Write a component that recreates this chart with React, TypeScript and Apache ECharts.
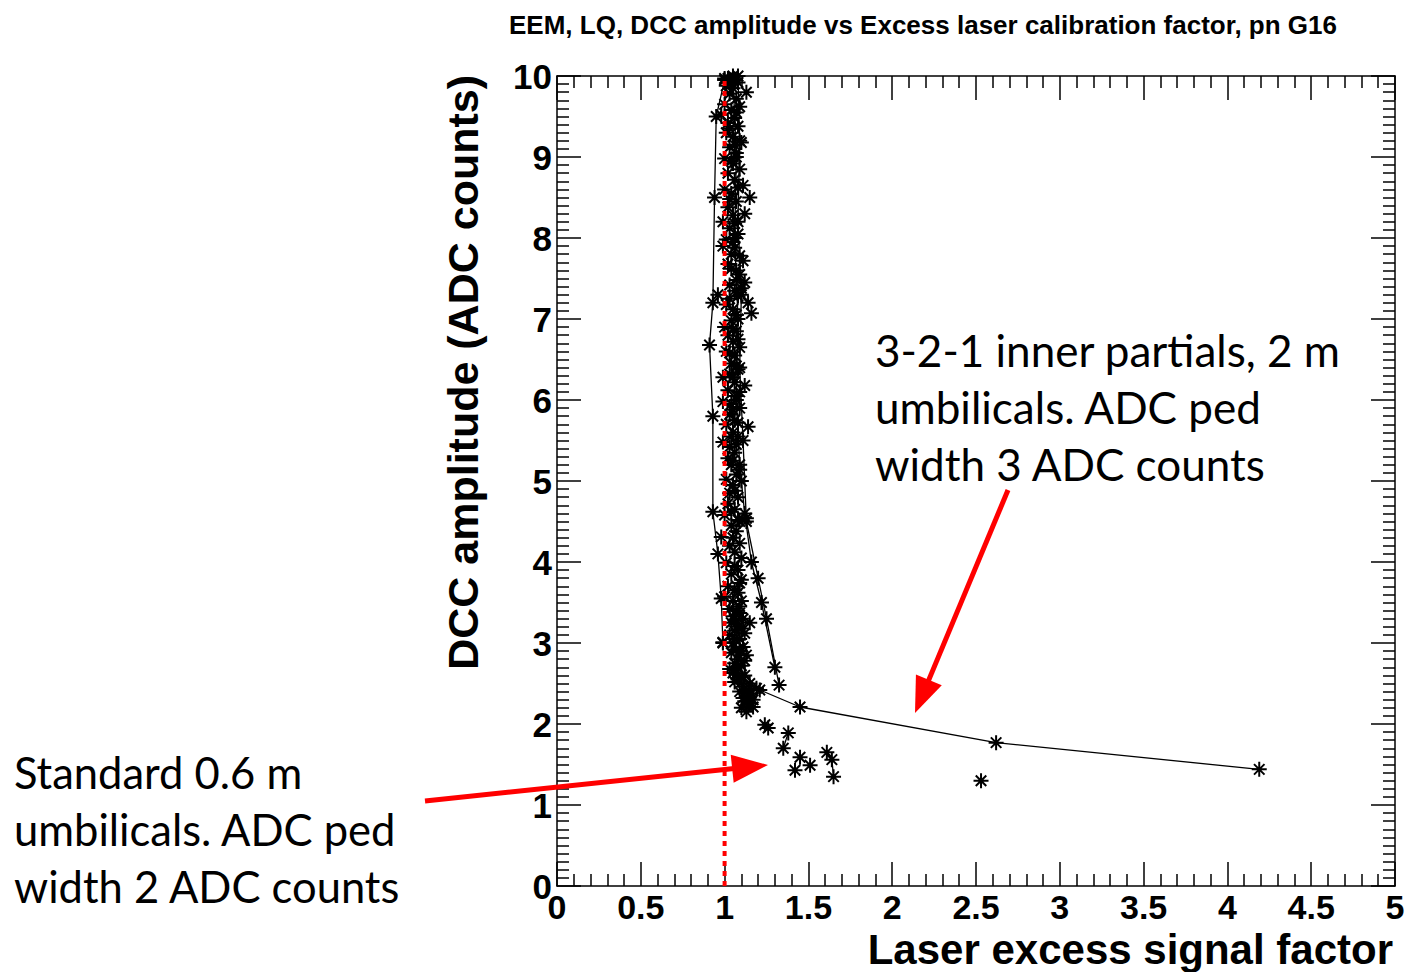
import React, { useEffect, useRef } from 'react';
import * as echarts from 'echarts';

// ---------- data ----------
const xTickLabels = ['0', '0.5', '1', '1.5', '2', '2.5', '3', '3.5', '4', '4.5', '5'];
const yTickLabels = ['0', '1', '2', '3', '4', '5', '6', '7', '8', '9', '10'];

const cloudTop: [number, number][] = [
  [1.0, 9.97], [1.02, 9.97], [1.04, 9.95], [1.06, 9.96], [1.08, 9.92], [1.01, 9.88], [1.05, 9.85], [1.13, 9.8],
  [1.03, 9.78], [1.07, 9.72], [1.0, 9.65], [1.09, 9.62], [1.04, 9.58], [0.98, 9.52], [1.06, 9.48], [1.02, 9.42],
  [1.08, 9.38], [1.01, 9.3], [1.05, 9.25], [1.1, 9.18], [1.03, 9.12], [1.07, 9.05], [1.0, 8.98], [1.05, 8.92],
  [1.09, 8.85], [1.02, 8.8], [1.06, 8.72], [1.11, 8.65], [1.0, 8.6], [1.04, 8.55], [1.15, 8.5], [1.07, 8.45], [1.02, 8.38],
];
const cloudUpper: [number, number][] = [
  [1.12, 8.3], [1.05, 8.28], [0.99, 8.2], [1.03, 8.12], [1.08, 8.05], [1.01, 7.98], [0.99, 7.9], [1.06, 7.88],
  [1.04, 7.8], [1.11, 7.72], [1.02, 7.68], [1.07, 7.6], [1.09, 7.55], [1.12, 7.45], [1.03, 7.42], [0.96, 7.3],
  [1.06, 7.35], [1.08, 7.28], [1.14, 7.2], [1.01, 7.18], [1.05, 7.12], [1.16, 7.07], [1.0, 6.9], [1.04, 6.98],
];
const cloudMiddle: [number, number][] = [
  [1.07, 6.85], [1.02, 6.8], [1.05, 6.72], [1.09, 6.65], [1.01, 6.6], [1.06, 6.55], [1.04, 6.45], [1.08, 6.38],
  [0.99, 6.28], [1.03, 6.32], [1.12, 6.18], [1.06, 6.22], [1.02, 6.12], [1.07, 6.05], [0.99, 5.98], [1.04, 5.95],
  [1.09, 5.9], [1.03, 5.82], [1.06, 5.75], [1.14, 5.67], [1.01, 5.7], [1.05, 5.6], [1.08, 5.55], [0.99, 5.48],
  [1.03, 5.42], [1.06, 5.35], [1.02, 5.28], [1.09, 5.14], [1.04, 5.2], [1.07, 5.08], [1.01, 5.02],
];
const cloudLower: [number, number][] = [
  [1.05, 4.95], [1.03, 4.85], [1.08, 4.8], [1.02, 4.72], [1.06, 4.65], [1.0, 4.58], [1.09, 4.5], [1.13, 4.54],
  [1.04, 4.45], [0.98, 4.31], [1.07, 4.38], [1.09, 4.23], [1.03, 4.2], [1.06, 4.12], [1.01, 3.99], [1.08, 3.9],
  [1.04, 3.85], [1.1, 3.78], [1.09, 3.74], [1.02, 3.7], [1.06, 3.65], [1.0, 3.57], [1.05, 3.52], [1.09, 3.45],
];
const cloudBottom: [number, number][] = [
  [1.03, 3.42], [1.07, 3.4], [1.09, 3.37], [1.05, 3.33], [1.11, 3.3], [1.15, 3.25], [1.04, 3.25], [1.08, 3.2],
  [1.06, 3.15], [1.12, 3.12], [1.03, 3.1], [1.09, 3.05], [0.99, 3.01], [1.05, 3.0], [1.11, 2.95], [1.07, 2.92],
  [1.04, 2.88], [1.13, 2.85], [1.08, 2.8], [1.06, 2.75], [1.1, 2.72], [1.03, 2.68], [1.05, 2.63], [1.12, 2.6],
  [1.08, 2.55], [1.15, 2.5], [1.06, 2.52], [1.11, 2.46], [1.19, 2.44], [1.09, 2.4], [1.14, 2.35], [1.17, 2.3],
  [1.12, 2.28], [1.15, 2.26], [1.17, 2.21], [1.13, 2.15], [1.1, 2.2],
];
const cloudCore: [number, number][] = [
  [1.05, 9.9], [1.07, 9.55], [1.03, 9.35], [1.06, 9.15], [1.04, 8.95], [1.08, 8.62], [1.03, 8.48], [1.06, 8.18],
  [1.05, 7.95], [1.09, 7.78], [1.04, 7.62], [1.07, 7.48], [1.1, 7.38], [1.03, 7.25], [1.07, 7.05], [1.05, 6.88],
  [1.08, 6.75], [1.03, 6.58], [1.07, 6.42], [1.05, 6.28], [1.09, 6.1], [1.05, 5.88], [1.08, 5.72], [1.04, 5.55],
  [1.07, 5.45], [1.05, 5.25], [1.1, 5.0], [1.06, 4.88], [1.04, 4.62], [1.08, 4.52], [1.05, 4.3], [1.1, 4.05],
  [1.06, 3.95], [1.08, 3.62], [1.1, 3.52], [1.07, 3.28], [1.1, 3.18], [1.06, 3.05], [1.09, 2.9], [1.12, 2.78],
  [1.07, 2.62], [1.1, 2.58], [1.13, 2.42], [1.16, 2.38], [1.11, 2.32], [1.14, 2.22],
];
const lowScatter: [number, number][] = [
  [1.24, 1.99], [1.26, 1.95], [1.45, 1.59], [1.42, 1.43], [1.51, 1.49], [2.53, 1.3],
];
const lowLineA: [number, number][] = [[1.38, 1.89], [1.35, 1.7]];
const lowLineB: [number, number][] = [[1.61, 1.65], [1.64, 1.56], [1.65, 1.35]];

const lineA: [number, number][] = [
  [1.0, 9.95], [0.95, 9.5], [0.94, 8.5], [0.93, 7.2], [0.91, 6.68], [0.93, 5.8], [0.93, 4.62],
  [0.96, 4.1], [0.98, 3.55], [0.99, 3.0],
];
const lineB: [number, number][] = [
  [1.05, 10.0], [1.07, 9.0], [1.06, 8.0], [1.08, 7.0], [1.07, 6.0], [1.09, 5.2], [1.12, 4.6],
  [1.16, 4.0], [1.22, 3.5], [1.3, 2.7],
];
const lineC: [number, number][] = [
  [1.08, 10.0], [1.09, 9.2], [1.08, 8.2], [1.1, 7.3], [1.09, 6.4], [1.11, 5.5], [1.13, 4.5],
  [1.2, 3.8], [1.25, 3.3], [1.325, 2.48],
];
const lineD: [number, number][] = [
  [1.08, 2.7], [1.21, 2.42], [1.45, 2.21], [2.62, 1.77], [4.19, 1.44],
];
const refLine: [number, number][] = [[1, 0], [1, 10]];

const STAR = 'path://M10 0L10 20M0 10L20 10M3 3L17 17M3 17L17 3';
const FONT = 'Liberation Sans';

function arrow(x1: number, y1: number, x2: number, y2: number, w: number, hl: number, hw: number) {
  const dx = x2 - x1, dy = y2 - y1;
  const L = Math.sqrt(dx * dx + dy * dy);
  const ux = dx / L, uy = dy / L;
  const bx = x2 - ux * hl, by = y2 - uy * hl;
  const px = -uy, py = ux;
  return [
    { type: 'line', shape: { x1, y1, x2: bx + ux * 2, y2: by + uy * 2 }, style: { stroke: '#ff0000', lineWidth: w }, z: 100 },
    {
      type: 'polygon',
      shape: { points: [[x2, y2], [bx + px * hw / 2, by + py * hw / 2], [bx - px * hw / 2, by - py * hw / 2]] },
      style: { fill: '#ff0000' },
      z: 100,
    },
  ];
}

const starItem = { color: '#000', borderColor: '#000', borderWidth: 2, opacity: 1 };

function scatter(data: [number, number][]) {
  return { type: 'scatter', data, symbol: STAR, symbolSize: 15, itemStyle: starItem, z: 3 };
}
function line(data: [number, number][]) {
  return {
    type: 'line', data, symbol: STAR, symbolSize: 15, showSymbol: true, itemStyle: starItem,
    lineStyle: { color: '#000', width: 1.3 }, z: 3,
  };
}

const axisLineStyle = { show: true, onZero: false, lineStyle: { color: '#000', width: 1.5 } };

function xAx(pos: 'bottom' | 'top', showLabel: boolean) {
  return {
    type: 'value', position: pos, min: 0, max: 5, interval: 0.5,
    axisLine: axisLineStyle,
    axisTick: { show: true, inside: true, length: 24, lineStyle: { color: '#000', width: 1.5 } },
    minorTick: { show: true, splitNumber: 5, length: 12, lineStyle: { color: '#000', width: 1.5 } },
    splitLine: { show: false },
    axisLabel: {
      show: showLabel, margin: 4, color: '#000', fontFamily: FONT, fontWeight: 'bold', fontSize: 34,
      formatter: (v: number) => xTickLabels[Math.round(v * 2)] ?? '',
    },
  };
}
function yAx(pos: 'left' | 'right', showLabel: boolean) {
  return {
    type: 'value', position: pos, min: 0, max: 10, interval: 1,
    axisLine: axisLineStyle,
    axisTick: { show: true, inside: true, length: 24, lineStyle: { color: '#000', width: 1.5 } },
    minorTick: { show: true, splitNumber: 10, length: 12, lineStyle: { color: '#000', width: 1.5 } },
    splitLine: { show: false },
    axisLabel: {
      show: showLabel, margin: 5, color: '#000', fontFamily: FONT, fontWeight: 'bold', fontSize: 35,
      formatter: (v: number) => yTickLabels[Math.round(v)] ?? '',
    },
  };
}

export default function App() {
  const ref = useRef<HTMLDivElement>(null);
  useEffect(() => {
    if (!ref.current) return;
    const chart = echarts.init(ref.current, null, { renderer: 'svg' });
    chart.setOption({
      animation: false,
      backgroundColor: '#fff',
      grid: { left: 557, top: 76, width: 838, height: 810, containLabel: false },
      xAxis: [xAx('bottom', true), xAx('top', false)],
      yAxis: [yAx('left', true), yAx('right', false)],
      series: [
        scatter(cloudTop),
        scatter(cloudUpper),
        scatter(cloudMiddle),
        scatter(cloudLower),
        scatter(cloudBottom),
        scatter(cloudCore),
        scatter(lowScatter),
        line(lowLineA),
        line(lowLineB),
        line(lineA),
        line(lineB),
        line(lineC),
        line(lineD),
        {
          type: 'line', data: refLine, symbol: 'none', z: 5,
          lineStyle: { color: '#ff0000', width: 4, type: [5, 5], cap: 'butt' },
        },
      ],
      graphic: [
        {
          type: 'text', x: 923, y: 25, z: 50,
          style: {
            text: 'EEM, LQ, DCC amplitude vs Excess laser calibration factor, pn G16',
            fontFamily: FONT, fontWeight: 'bold', fontSize: 26, fill: '#000', align: 'center', verticalAlign: 'middle',
          },
        },
        {
          type: 'text', x: 1393, y: 949, z: 50,
          style: {
            text: 'Laser excess signal factor', fontFamily: FONT, fontWeight: 'bold', fontSize: 42,
            fill: '#000', align: 'right', verticalAlign: 'middle',
          },
        },
        {
          type: 'text', x: 463, y: 75, rotation: Math.PI / 2, z: 50,
          style: {
            text: 'DCC amplitude (ADC counts)', fontFamily: FONT, fontWeight: 'bold', fontSize: 43,
            fill: '#000', align: 'right', verticalAlign: 'middle',
          },
        },
        {
          type: 'text', x: 875, y: 321, z: 50,
          style: {
            text: '3-2-1 inner partials, 2 m\numbilicals. ADC ped\nwidth 3 ADC counts',
            fontFamily: 'Lato', fontSize: 44, lineHeight: 57, fill: '#000', align: 'left', verticalAlign: 'top',
          },
        },
        {
          type: 'text', x: 14, y: 743, z: 50,
          style: {
            text: 'Standard 0.6 m\numbilicals. ADC ped\nwidth 2 ADC counts',
            fontFamily: 'Lato', fontSize: 43.5, lineHeight: 57, fill: '#000', align: 'left', verticalAlign: 'top',
          },
        },
        ...arrow(1008, 490, 915, 713, 5, 36, 28),
        ...arrow(425, 801, 768, 765, 5, 36, 28),
      ],
    });
    return () => chart.dispose();
  }, []);
  return (
    <div
      ref={ref}
      style={{ position: 'absolute', left: 0, top: 0, width: 1408, height: 972, background: '#fff' }}
    />
  );
}
